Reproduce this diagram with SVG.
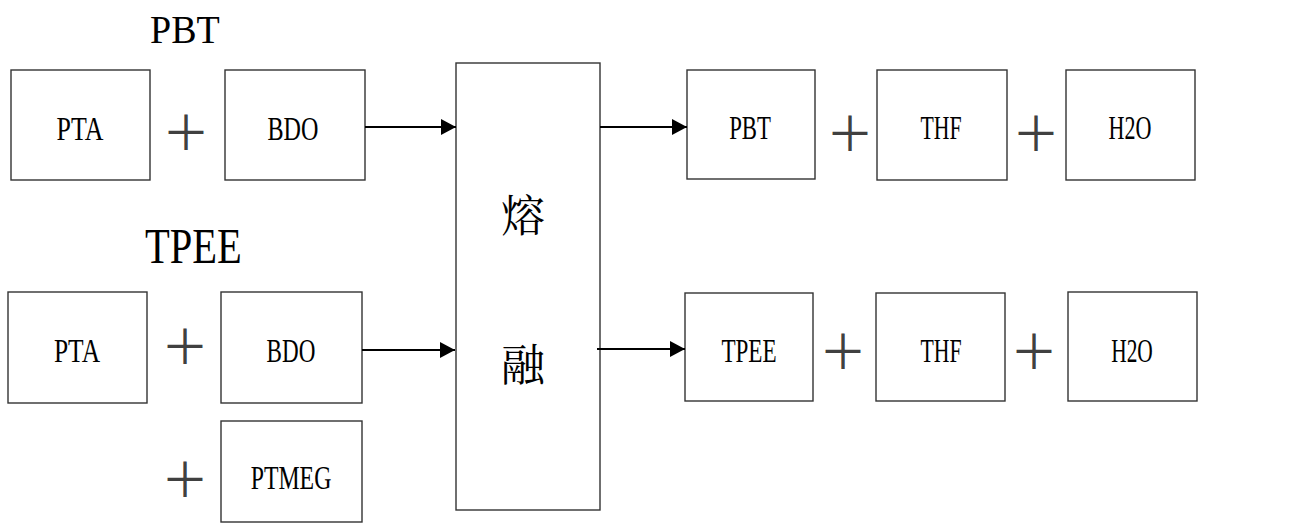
<svg xmlns="http://www.w3.org/2000/svg" width="1290" height="528" viewBox="0 0 1290 528">
<style>
.box{fill:#fff;stroke:#333;stroke-width:1.4}
.lbl{font-size:34px;fill:#000;text-anchor:middle}
.ttl{fill:#000}
.plus{font-size:48px;fill:#404040;text-anchor:middle;dominant-baseline:central}
.cjk{font-size:44px;fill:#000;text-anchor:middle;dominant-baseline:central}
.arr{stroke:#000;stroke-width:2;fill:none;marker-end:url(#ah)}
</style>
<defs>
<marker id="ah" markerUnits="userSpaceOnUse" markerWidth="16" markerHeight="18" refX="15" refY="8" orient="auto">
<path d="M0,0 L15,8 L0,16 Z" fill="#000"/>
</marker>
</defs>
<rect width="1290" height="528" fill="#fff"/>
<g font-family="Liberation Serif, serif">
<text class="ttl" font-size="40" transform="translate(150,43) scale(0.95,1)">PBT</text>
<text class="ttl" font-size="50" transform="translate(145,263) scale(0.81,1)">TPEE</text>

<g id="pta1"><rect class="box" x="11" y="70" width="139" height="110"/><text class="lbl" transform="translate(80,140) scale(0.763,1)">PTA</text></g>
<g id="bdo1"><rect class="box" x="225" y="70" width="140" height="110"/><text class="lbl" transform="translate(293,140) scale(0.71,1)">BDO</text></g>

<g id="pta2"><rect class="box" x="8" y="292" width="139" height="111"/><text class="lbl" transform="translate(77,362) scale(0.75,1)">PTA</text></g>
<g id="bdo2"><rect class="box" x="221" y="292" width="141" height="111"/><text class="lbl" transform="translate(291,362) scale(0.68,1)">BDO</text></g>
<g id="ptmeg"><rect class="box" x="221" y="421" width="141" height="101"/><text class="lbl" transform="translate(291,489) scale(0.70,1)">PTMEG</text></g>

<g id="melt"><rect class="box" x="456" y="63" width="144" height="447"/><text class="cjk" font-family="Noto Serif CJK TC, Noto Sans CJK TC, serif" x="523" y="213">熔</text><text class="cjk" font-family="Noto Serif CJK TC, Noto Sans CJK TC, serif" x="523" y="362">融</text></g>

<g id="pbt"><rect class="box" x="687" y="70" width="128" height="109"/><text class="lbl" transform="translate(750,139) scale(0.67,1)">PBT</text></g>
<g id="thf1"><rect class="box" x="877" y="70" width="130" height="110"/><text class="lbl" transform="translate(941,139) scale(0.64,1)">THF</text></g>
<g id="h2o1"><rect class="box" x="1066" y="70" width="129" height="110"/><text class="lbl" transform="translate(1130,139) scale(0.65,1)">H2O</text></g>

<g id="tpee"><rect class="box" x="685" y="293" width="128" height="108"/><text class="lbl" transform="translate(749,362) scale(0.68,1)">TPEE</text></g>
<g id="thf2"><rect class="box" x="876" y="293" width="129" height="108"/><text class="lbl" transform="translate(941,362) scale(0.64,1)">THF</text></g>
<g id="h2o2"><rect class="box" x="1068" y="292" width="129" height="109"/><text class="lbl" transform="translate(1132,362) scale(0.63,1)">H2O</text></g>
</g>
<g id="plus-signs" font-family="Noto Sans CJK TC, sans-serif">
<text class="plus" x="186" y="129">＋</text>
<text class="plus" x="185" y="343">＋</text>
<text class="plus" x="185" y="476">＋</text>
<text class="plus" x="850" y="130">＋</text>
<text class="plus" x="1036" y="130">＋</text>
<text class="plus" x="843" y="348">＋</text>
<text class="plus" x="1034" y="348">＋</text>
</g>
<g id="connectors">
<line class="arr" x1="365" y1="127" x2="456" y2="127"/>
<line class="arr" x1="362" y1="350" x2="455" y2="350"/>
<line class="arr" x1="600" y1="127" x2="687" y2="127"/>
<line class="arr" x1="597" y1="349" x2="685" y2="349"/>
</g>
</svg>
